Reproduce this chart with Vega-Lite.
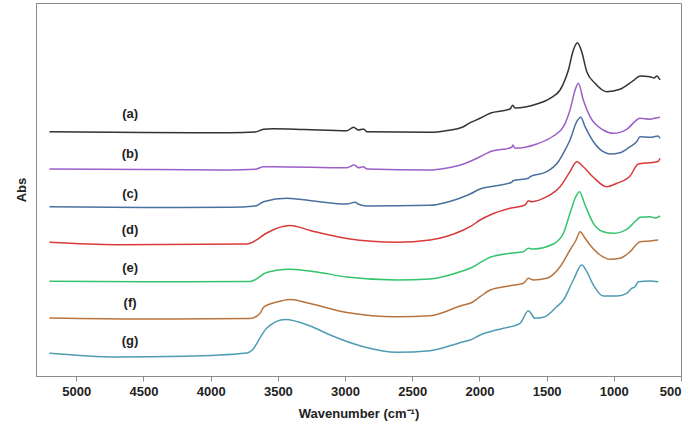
{
  "$schema": "https://vega.github.io/schema/vega-lite/v6.json",
  "width": 645,
  "height": 373,
  "autosize": "none",
  "padding": {"left": 36, "top": 3, "right": 19, "bottom": 50},
  "config": {
    "view": {"stroke": "#8c8c8c", "strokeWidth": 1},
    "font": "Liberation Sans"
  },
  "datasets": {
    "spectra": [
      {"s":"a","w":5200,"v":244.3},{"s":"a","w":4500,"v":243.5},{"s":"a","w":3855,"v":243.3},{"s":"a","w":3669,"v":244},{"s":"a","w":3607,"v":246.7},{"s":"a","w":3535,"v":247.3},{"s":"a","w":3300,"v":246.5},{"s":"a","w":2987,"v":245.3},{"s":"a","w":2937,"v":248.7},{"s":"a","w":2900,"v":246},{"s":"a","w":2863,"v":247},{"s":"a","w":2838,"v":244.3},{"s":"a","w":2367,"v":243.7},{"s":"a","w":2250,"v":245.3},{"s":"a","w":2119,"v":249.3},{"s":"a","w":2069,"v":253.3},{"s":"a","w":1995,"v":257.7},{"s":"a","w":1921,"v":262.7},{"s":"a","w":1772,"v":267},{"s":"a","w":1752,"v":270.7},{"s":"a","w":1735,"v":268},{"s":"a","w":1573,"v":272},{"s":"a","w":1474,"v":277.7},{"s":"a","w":1400,"v":286},{"s":"a","w":1338,"v":306},{"s":"a","w":1301,"v":326},{"s":"a","w":1271,"v":333.3},{"s":"a","w":1239,"v":324.3},{"s":"a","w":1201,"v":304.3},{"s":"a","w":1140,"v":292.7},{"s":"a","w":1053,"v":284.3},{"s":"a","w":954,"v":286.7},{"s":"a","w":855,"v":295.3},{"s":"a","w":805,"v":300},{"s":"a","w":731,"v":299.3},{"s":"a","w":700,"v":298},{"s":"a","w":680,"v":300},{"s":"a","w":656,"v":296},
      {"s":"b","w":5200,"v":207},{"s":"b","w":4500,"v":206.5},{"s":"b","w":3855,"v":206},{"s":"b","w":3669,"v":206.7},{"s":"b","w":3607,"v":209.3},{"s":"b","w":3535,"v":209.3},{"s":"b","w":2987,"v":208.3},{"s":"b","w":2932,"v":211},{"s":"b","w":2900,"v":208.3},{"s":"b","w":2863,"v":209.3},{"s":"b","w":2838,"v":207},{"s":"b","w":2367,"v":206},{"s":"b","w":2250,"v":207.8},{"s":"b","w":2119,"v":212},{"s":"b","w":1995,"v":219.3},{"s":"b","w":1921,"v":224.3},{"s":"b","w":1759,"v":228.7},{"s":"b","w":1752,"v":231},{"s":"b","w":1735,"v":227.7},{"s":"b","w":1573,"v":232},{"s":"b","w":1450,"v":240},{"s":"b","w":1375,"v":249.3},{"s":"b","w":1326,"v":266},{"s":"b","w":1288,"v":286},{"s":"b","w":1264,"v":292.7},{"s":"b","w":1227,"v":276},{"s":"b","w":1177,"v":259.3},{"s":"b","w":1078,"v":246},{"s":"b","w":1004,"v":242.7},{"s":"b","w":904,"v":246.7},{"s":"b","w":830,"v":256},{"s":"b","w":805,"v":257.7},{"s":"b","w":731,"v":256.7},{"s":"b","w":690,"v":258},{"s":"b","w":656,"v":258.7},
      {"s":"c","w":5200,"v":169.3},{"s":"c","w":4500,"v":168.5},{"s":"c","w":3855,"v":168.7},{"s":"c","w":3669,"v":170},{"s":"c","w":3607,"v":174.3},{"s":"c","w":3433,"v":177.7},{"s":"c","w":3235,"v":175},{"s":"c","w":2987,"v":172},{"s":"c","w":2925,"v":173.7},{"s":"c","w":2900,"v":171.7},{"s":"c","w":2838,"v":170},{"s":"c","w":2367,"v":170.7},{"s":"c","w":2250,"v":173.5},{"s":"c","w":2119,"v":179.3},{"s":"c","w":2069,"v":182},{"s":"c","w":1995,"v":187},{"s":"c","w":1921,"v":189.3},{"s":"c","w":1759,"v":193.7},{"s":"c","w":1752,"v":195.3},{"s":"c","w":1636,"v":197.7},{"s":"c","w":1623,"v":199.3},{"s":"c","w":1499,"v":204.3},{"s":"c","w":1413,"v":214.3},{"s":"c","w":1350,"v":229.3},{"s":"c","w":1326,"v":236},{"s":"c","w":1276,"v":254.3},{"s":"c","w":1246,"v":258.7},{"s":"c","w":1214,"v":249.3},{"s":"c","w":1152,"v":234.3},{"s":"c","w":1053,"v":222.7},{"s":"c","w":1028,"v":222},{"s":"c","w":954,"v":223.3},{"s":"c","w":879,"v":229.3},{"s":"c","w":830,"v":234.3},{"s":"c","w":805,"v":239.3},{"s":"c","w":731,"v":238.7},{"s":"c","w":670,"v":240},{"s":"c","w":656,"v":237.7},
      {"s":"d","w":5200,"v":133.7},{"s":"d","w":4700,"v":131.3},{"s":"d","w":3732,"v":132},{"s":"d","w":3706,"v":132.7},{"s":"d","w":3656,"v":136.3},{"s":"d","w":3607,"v":141},{"s":"d","w":3582,"v":143},{"s":"d","w":3408,"v":150.5},{"s":"d","w":3260,"v":145.5},{"s":"d","w":2987,"v":137.5},{"s":"d","w":2615,"v":133.7},{"s":"d","w":2367,"v":136},{"s":"d","w":2119,"v":146},{"s":"d","w":2069,"v":149.3},{"s":"d","w":1995,"v":156},{"s":"d","w":1921,"v":161},{"s":"d","w":1772,"v":167.7},{"s":"d","w":1660,"v":171},{"s":"d","w":1636,"v":175.3},{"s":"d","w":1611,"v":174.3},{"s":"d","w":1499,"v":179.3},{"s":"d","w":1400,"v":189.3},{"s":"d","w":1326,"v":204.3},{"s":"d","w":1276,"v":214.3},{"s":"d","w":1227,"v":209.3},{"s":"d","w":1152,"v":198.7},{"s":"d","w":1053,"v":189.3},{"s":"d","w":978,"v":192.7},{"s":"d","w":879,"v":200},{"s":"d","w":818,"v":212},{"s":"d","w":731,"v":213.3},{"s":"d","w":670,"v":214.5},{"s":"d","w":656,"v":217.7},
      {"s":"e","w":5200,"v":94.7},{"s":"e","w":4500,"v":94.2},{"s":"e","w":3706,"v":94.5},{"s":"e","w":3631,"v":99.7},{"s":"e","w":3607,"v":102},{"s":"e","w":3507,"v":105.7},{"s":"e","w":3408,"v":106.8},{"s":"e","w":3210,"v":104},{"s":"e","w":2987,"v":99},{"s":"e","w":2615,"v":96},{"s":"e","w":2367,"v":97},{"s":"e","w":2119,"v":105.3},{"s":"e","w":2069,"v":107.7},{"s":"e","w":1995,"v":113.3},{"s":"e","w":1921,"v":118.7},{"s":"e","w":1772,"v":122.7},{"s":"e","w":1673,"v":124.3},{"s":"e","w":1636,"v":127.7},{"s":"e","w":1599,"v":127},{"s":"e","w":1450,"v":132},{"s":"e","w":1375,"v":142.7},{"s":"e","w":1326,"v":162.7},{"s":"e","w":1288,"v":177.7},{"s":"e","w":1256,"v":184.3},{"s":"e","w":1214,"v":171},{"s":"e","w":1152,"v":152.7},{"s":"e","w":1078,"v":144.3},{"s":"e","w":1004,"v":142.7},{"s":"e","w":904,"v":146.7},{"s":"e","w":830,"v":156},{"s":"e","w":805,"v":158.7},{"s":"e","w":731,"v":159.3},{"s":"e","w":690,"v":158},{"s":"e","w":656,"v":160},
      {"s":"f","w":5200,"v":58},{"s":"f","w":4500,"v":57},{"s":"f","w":3706,"v":57.5},{"s":"f","w":3631,"v":63},{"s":"f","w":3607,"v":68.7},{"s":"f","w":3507,"v":74},{"s":"f","w":3408,"v":76.5},{"s":"f","w":3260,"v":72.5},{"s":"f","w":2987,"v":63.5},{"s":"f","w":2615,"v":59.3},{"s":"f","w":2367,"v":60.3},{"s":"f","w":2119,"v":71},{"s":"f","w":2069,"v":72.7},{"s":"f","w":1995,"v":79.3},{"s":"f","w":1921,"v":86},{"s":"f","w":1772,"v":90.3},{"s":"f","w":1673,"v":92.7},{"s":"f","w":1636,"v":97.7},{"s":"f","w":1599,"v":96},{"s":"f","w":1499,"v":97.7},{"s":"f","w":1400,"v":109.3},{"s":"f","w":1326,"v":126},{"s":"f","w":1281,"v":136},{"s":"f","w":1251,"v":144.3},{"s":"f","w":1214,"v":137.7},{"s":"f","w":1177,"v":131},{"s":"f","w":1102,"v":121},{"s":"f","w":1028,"v":116.7},{"s":"f","w":954,"v":117.7},{"s":"f","w":879,"v":124.3},{"s":"f","w":805,"v":134.3},{"s":"f","w":731,"v":135},{"s":"f","w":669,"v":136},
      {"s":"g","w":5200,"v":22.7},{"s":"g","w":4700,"v":19},{"s":"g","w":4200,"v":19.7},{"s":"g","w":3730,"v":23},{"s":"g","w":3706,"v":24.3},{"s":"g","w":3669,"v":29.7},{"s":"g","w":3656,"v":32.7},{"s":"g","w":3582,"v":48},{"s":"g","w":3445,"v":56.5},{"s":"g","w":3260,"v":50},{"s":"g","w":3111,"v":41},{"s":"g","w":2863,"v":29.3},{"s":"g","w":2615,"v":23.7},{"s":"g","w":2367,"v":25.3},{"s":"g","w":2119,"v":34.3},{"s":"g","w":2069,"v":36},{"s":"g","w":1995,"v":41},{"s":"g","w":1921,"v":44.3},{"s":"g","w":1822,"v":47.7},{"s":"g","w":1698,"v":52.7},{"s":"g","w":1636,"v":65.3},{"s":"g","w":1586,"v":57.7},{"s":"g","w":1524,"v":58.7},{"s":"g","w":1425,"v":69.3},{"s":"g","w":1375,"v":76},{"s":"g","w":1301,"v":96},{"s":"g","w":1239,"v":111},{"s":"g","w":1201,"v":104.3},{"s":"g","w":1152,"v":91},{"s":"g","w":1078,"v":80},{"s":"g","w":978,"v":80},{"s":"g","w":904,"v":82.7},{"s":"g","w":867,"v":87.7},{"s":"g","w":842,"v":89.3},{"s":"g","w":818,"v":94.3},{"s":"g","w":731,"v":95},{"s":"g","w":669,"v":94.3}
    ],
    "labels": [
      {"s":"a","t":"(a)","w":4600,"v":262},
      {"s":"b","t":"(b)","w":4600,"v":222},
      {"s":"c","t":"(c)","w":4600,"v":182},
      {"s":"d","t":"(d)","w":4600,"v":146},
      {"s":"e","t":"(e)","w":4600,"v":108},
      {"s":"f","t":"(f)","w":4600,"v":73},
      {"s":"g","t":"(g)","w":4600,"v":35}
    ]
  },
  "layer": [
    {
      "data": {"name": "spectra"},
      "mark": {"type": "line", "strokeWidth": 1.5, "interpolate": "monotone"},
      "encoding": {
        "x": {
          "field": "w", "type": "quantitative",
          "scale": {"domain": [500, 5300], "reverse": true, "nice": false, "zero": false},
          "axis": {
            "title": "Wavenumber (cm⁻¹)",
            "format": "d",
            "values": [500, 1000, 1500, 2000, 2500, 3000, 3500, 4000, 4500, 5000],
            "grid": false,
            "domainColor": "#8c8c8c",
            "tickColor": "#8c8c8c",
            "tickSize": 5,
            "labelPadding": 4,
            "labelFont": "Liberation Sans",
            "labelFontSize": 13,
            "labelFontWeight": "bold",
            "labelColor": "#222222",
            "titleFont": "Liberation Sans",
            "titleFontSize": 13,
            "titleFontWeight": "bold",
            "titleColor": "#222222",
            "titlePadding": 9
          }
        },
        "y": {
          "field": "v", "type": "quantitative",
          "scale": {"domain": [0, 373], "nice": false, "zero": false},
          "axis": {
            "title": "Abs",
            "labels": false,
            "ticks": false,
            "grid": false,
            "domainColor": "#8c8c8c",
            "titleFont": "Liberation Sans",
            "titleFontSize": 13,
            "titleFontWeight": "bold",
            "titleColor": "#222222",
            "titlePadding": 8
          }
        },
        "order": {"field": "w", "sort": "descending"},
        "color": {
          "field": "s", "type": "nominal", "legend": null,
          "scale": {
            "domain": ["a", "b", "c", "d", "e", "f", "g"],
            "range": ["#333333", "#9d5fc9", "#4a70a0", "#d83a3a", "#33c46c", "#b8743e", "#4f9cb4"]
          }
        }
      }
    },
    {
      "data": {"name": "labels"},
      "mark": {"type": "text", "font": "Liberation Sans", "fontSize": 13, "fontWeight": "bold", "color": "#222222"},
      "encoding": {
        "x": {"field": "w", "type": "quantitative"},
        "y": {"field": "v", "type": "quantitative"},
        "text": {"field": "t"}
      }
    }
  ]
}
